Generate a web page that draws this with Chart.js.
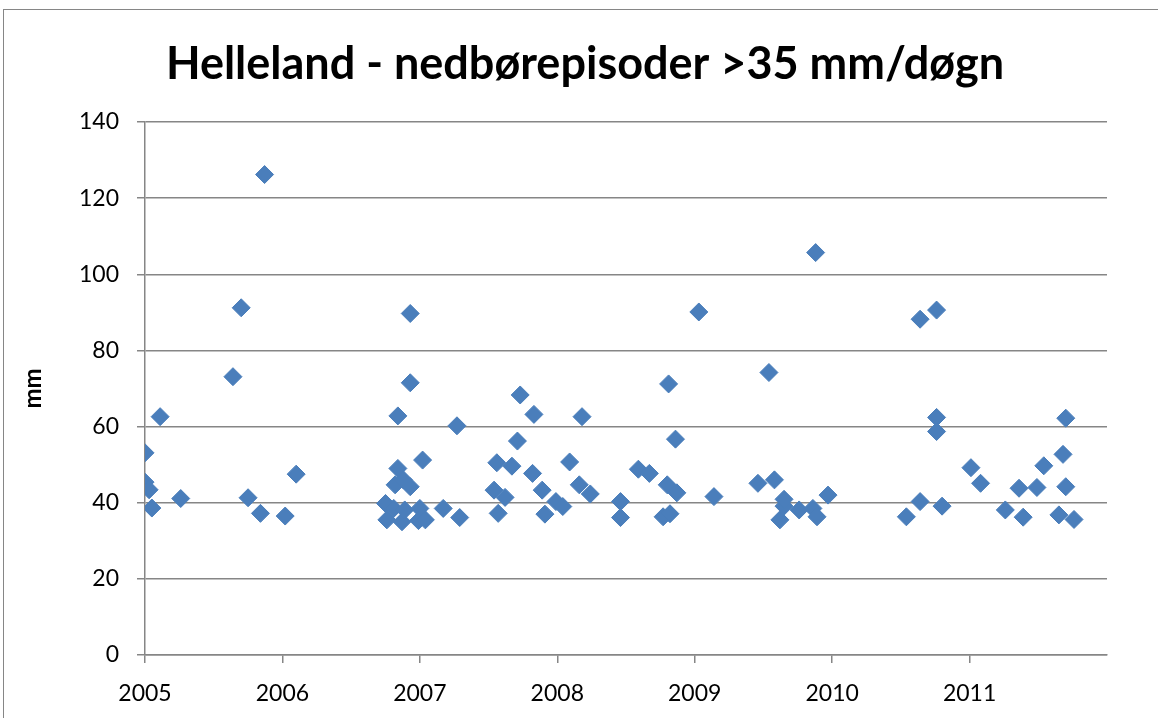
<!DOCTYPE html>
<html>
<head>
<meta charset="utf-8">
<title>Helleland - nedbørepisoder</title>
<script src="https://cdn.jsdelivr.net/npm/chart.js@4.4.1/dist/chart.umd.min.js"></script>
<style>
  html, body { margin: 0; padding: 0; background: #fff; }
  #wrap { position: relative; width: 1158px; height: 718px; overflow: hidden; }
</style>
</head>
<body>
<div id="wrap"><canvas id="rainChart" width="1158" height="718"></canvas></div>
<script>
// Episode dates as decimal years
const episodeYear = [
  2005.00, 2005.00, 2005.03, 2005.05, 2005.11, 2005.26, 2005.64, 2005.70, 2005.75, 2005.84,
  2005.87, 2006.02, 2006.10,
  2006.75, 2006.76, 2006.81, 2006.84, 2006.84, 2006.82, 2006.88, 2006.93, 2006.87, 2006.89,
  2006.93, 2006.93, 2007.02, 2007.00, 2006.99, 2007.04, 2007.17, 2007.27, 2007.29,
  2007.54, 2007.56, 2007.57, 2007.62, 2007.67, 2007.71, 2007.73, 2007.82, 2007.83, 2007.89,
  2007.91, 2007.99, 2008.04, 2008.09, 2008.16, 2008.18, 2008.24, 2008.46, 2008.46, 2008.59,
  2008.67, 2008.77, 2008.80, 2008.81, 2008.82, 2008.86, 2008.87, 2009.03, 2009.14,
  2009.46, 2009.54, 2009.58, 2009.62, 2009.65, 2009.65, 2009.76, 2009.86, 2009.88, 2009.89,
  2009.97,
  2010.54, 2010.64, 2010.64, 2010.76, 2010.76, 2010.76, 2010.80, 2011.01, 2011.08, 2011.26,
  2011.36, 2011.39, 2011.49, 2011.54, 2011.65, 2011.68, 2011.70, 2011.70, 2011.76
];

// Precipitation per episode (mm/døgn)
const episodeMm = [
  53.1, 45.4, 43.4, 38.6, 62.6, 41.1, 73.1, 91.2, 41.3, 37.2,
  126.2, 36.5, 47.5,
  39.8, 35.5, 38.5, 62.8, 49.0, 44.7, 46.0, 44.2, 35.0, 38.1,
  71.5, 89.7, 51.2, 38.5, 35.3, 35.5, 38.5, 60.2, 36.1,
  43.3, 50.5, 37.2, 41.4, 49.6, 56.2, 68.3, 47.7, 63.2, 43.3,
  37.0, 40.3, 39.0, 50.7, 44.7, 62.6, 42.3, 40.3, 36.1, 48.8,
  47.7, 36.3, 44.7, 71.2, 37.1, 56.7, 42.6, 90.1, 41.6,
  45.1, 74.2, 46.0, 35.5, 39.1, 40.9, 38.1, 38.5, 105.7, 36.3,
  42.0,
  36.3, 40.3, 88.2, 90.6, 62.4, 58.7, 39.1, 49.2, 45.1, 38.1,
  43.8, 36.2, 44.0, 49.7, 36.8, 52.7, 62.2, 44.2, 35.6
];

const yearTicks = [2005, 2006, 2007, 2008, 2009, 2010, 2011];
const mmTicks = [0, 20, 40, 60, 80, 100, 120, 140];

const gridGrey = '#868686';
const markerBlue = '#4a7ebb';

const points = episodeYear.map((x, i) => ({ x: x, y: episodeMm[i] }));

// white background + outer chart frame like the spreadsheet export
const framePlugin = {
  id: 'frame',
  beforeDraw(chart) {
    const c = chart.ctx;
    c.save();
    c.fillStyle = '#fff';
    c.fillRect(0, 0, chart.width, chart.height);
    c.strokeStyle = gridGrey;
    c.lineWidth = 1;
    c.strokeRect(3.5, 9.5, 1400, 900);
    c.restore();
  },
  // the original title is centred on the whole frame, not on the plot
  afterLayout(chart) {
    if (chart.titleBlock) {
      chart.titleBlock.left = 12;
      chart.titleBlock.right = chart.width;
    }
  }
};

new Chart(document.getElementById('rainChart'), {
  type: 'scatter',
  data: {
    datasets: [{
      label: 'Nedbør',
      data: points,
      pointStyle: 'rectRot',
      pointRadius: 9,
      pointHoverRadius: 9,
      backgroundColor: markerBlue,
      borderColor: markerBlue,
      borderWidth: 1
    }]
  },
  options: {
    responsive: false,
    animation: false,
    layout: { padding: { left: 0, right: 51, top: 0, bottom: 0 } },
    plugins: {
      legend: { display: false },
      tooltip: { enabled: false },
      title: {
        display: true,
        text: 'Helleland - nedbørepisoder >35 mm/døgn',
        color: '#000',
        font: { family: 'Lato', size: 45, weight: 'bold', lineHeight: 1.2 },
        padding: { top: 37, bottom: 31 }
      }
    },
    scales: {
      x: {
        type: 'linear',
        min: yearTicks[0],
        max: yearTicks[yearTicks.length - 1] + 1,
        afterFit(scale) { scale.height = 63; },
        afterBuildTicks(scale) {
          scale.ticks = yearTicks.map(v => ({ value: v }));
        },
        border: { display: true, color: gridGrey, width: 1.5 },
        grid: {
          display: true,
          drawOnChartArea: false,
          drawTicks: true,
          tickLength: 8,
          color: gridGrey,
          lineWidth: 1.5
        },
        ticks: {
          padding: 17,
          maxRotation: 0,
          autoSkip: false,
          color: '#000',
          font: { family: 'Lato', size: 23 },
          callback: v => String(v)
        }
      },
      y: {
        min: mmTicks[0],
        max: mmTicks[mmTicks.length - 1],
        afterFit(scale) { scale.width = 145; },
        afterBuildTicks(scale) {
          scale.ticks = mmTicks.map(v => ({ value: v }));
        },
        border: { display: true, color: gridGrey, width: 1.5 },
        grid: {
          color: gridGrey,
          lineWidth: 1.5,
          tickLength: 8
        },
        ticks: {
          padding: 18,
          color: '#000',
          font: { family: 'Lato', size: 23 },
          callback: v => String(v)
        },
        title: {
          display: true,
          text: 'mm',
          color: '#000',
          font: { family: 'Lato', size: 24, weight: 'bold', lineHeight: 1.2 },
          padding: { top: 19, bottom: 0 }
        }
      }
    }
  },
  plugins: [framePlugin]
});
</script>
</body>
</html>
